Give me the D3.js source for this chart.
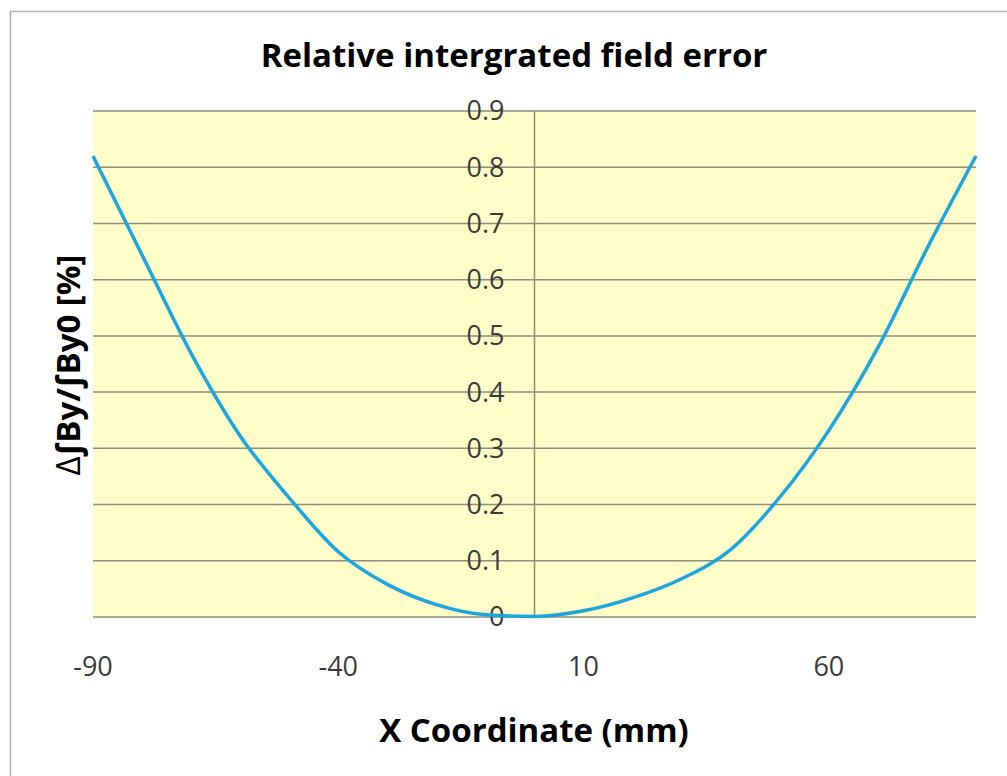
<!DOCTYPE html>
<html>
<head>
<meta charset="utf-8">
<script src="https://cdn.jsdelivr.net/npm/d3@7"></script>
<style>
  body { margin: 0; background: #fff; }
  svg { display: block; font-family: "Open Sans", sans-serif; }
</style>
</head>
<body>
<svg width="1007" height="776"></svg>
<script>
// x coordinate (mm) and relative integrated field error (%)
var xCoords = [-90, -80, -70, -60, -50, -40, -30, -20, -10, 0, 10, 20, 30, 40, 50, 60, 70, 80, 90];
var errorValues = [0.82, 0.644, 0.469, 0.322, 0.212, 0.116, 0.058, 0.022, 0.004, 0.001, 0.011, 0.034, 0.068, 0.12, 0.213, 0.332, 0.479, 0.655, 0.82];
var xTicks = [-90, -40, 10, 60];
var yTicks = [0, 0.1, 0.2, 0.3, 0.4, 0.5, 0.6, 0.7, 0.8, 0.9];

var svg = d3.select("svg");

var plot = {left: 93, right: 976, top: 111, bottom: 617};

var x = d3.scaleLinear().domain([-90, 90]).range([plot.left, plot.right]);
var y = d3.scaleLinear().domain([0, 0.9]).range([plot.bottom, plot.top]);

// chart border (only top/left visible in the crop)
svg.append("rect")
    .attr("x", 10.5).attr("y", 11.5)
    .attr("width", 1100).attr("height", 900)
    .attr("fill", "#fff")
    .attr("stroke", "#b4b4b4")
    .attr("stroke-width", 1.5);

// plot background
svg.append("rect")
    .attr("x", plot.left).attr("y", plot.top)
    .attr("width", plot.right - plot.left)
    .attr("height", plot.bottom - plot.top)
    .attr("fill", "#fffdc8");

// horizontal gridlines
svg.append("g")
  .selectAll("line")
  .data(yTicks)
  .join("line")
    .attr("x1", plot.left).attr("x2", plot.right)
    .attr("y1", d => y(d)).attr("y2", d => y(d))
    .attr("stroke", "#8e8c7c")
    .attr("stroke-width", 1.5);

// vertical axis at x = 0
svg.append("line")
    .attr("x1", x(0)).attr("x2", x(0))
    .attr("y1", plot.top).attr("y2", plot.bottom)
    .attr("stroke", "#8e8c7c")
    .attr("stroke-width", 1.5);

// y tick labels
svg.append("g")
  .selectAll("text")
  .data(yTicks)
  .join("text")
    .attr("x", x(0) - 30)
    .attr("y", d => y(d))
    .attr("dy", "0.35em")
    .attr("text-anchor", "end")
    .attr("font-size", 27)
    .attr("fill", "#3a3a3a")
    .text(d => d === 0 ? "0" : d3.format(".1f")(d));

// x tick labels
svg.append("g")
  .selectAll("text")
  .data(xTicks)
  .join("text")
    .attr("x", d => x(d))
    .attr("y", 667)
    .attr("dy", "0.35em")
    .attr("text-anchor", "middle")
    .attr("font-size", 27)
    .attr("fill", "#3a3a3a")
    .text(d => d);

// the curve (smoothed like the spreadsheet line)
var line = d3.line()
    .x(d => x(d[0]))
    .y(d => y(d[1]))
    .curve(d3.curveMonotoneX);

svg.append("path")
    .datum(d3.zip(xCoords, errorValues))
    .attr("fill", "none")
    .attr("stroke", "#1ba6dd")
    .attr("stroke-width", 3.5)
    .attr("stroke-linejoin", "round")
    .attr("d", line);

// titles
svg.append("text")
    .attr("x", 514).attr("y", 55)
    .attr("dy", "0.35em")
    .attr("text-anchor", "middle")
    .attr("font-size", 33)
    .attr("font-weight", "bold")
    .attr("fill", "#000")
    .text("Relative intergrated field error");

svg.append("text")
    .attr("x", 534).attr("y", 730)
    .attr("dy", "0.35em")
    .attr("text-anchor", "middle")
    .attr("font-size", 33)
    .attr("font-weight", "bold")
    .attr("fill", "#000")
    .text("X Coordinate (mm)");

var yTitle = svg.append("text")
    .attr("transform", "translate(68,365) rotate(-90)")
    .attr("dy", "0.35em")
    .attr("text-anchor", "middle")
    .attr("font-size", 33)
    .attr("font-weight", "bold")
    .attr("fill", "#000");
yTitle.append("tspan").attr("font-weight", "normal").text("\u0394");
yTitle.append("tspan").text("\u222BBy/\u222BBy0 [%]");
</script>
</body>
</html>
